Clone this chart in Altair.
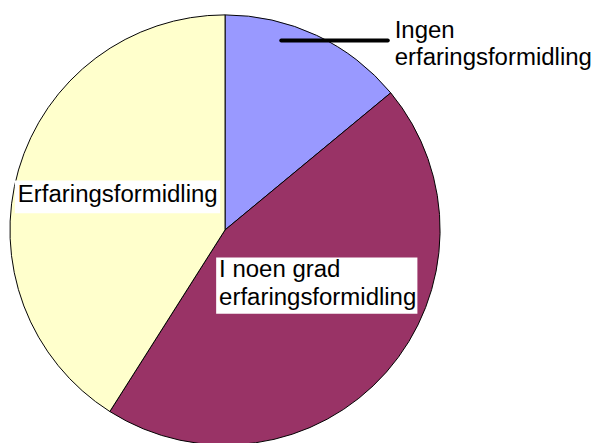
import altair as alt
import pandas as pd

categories = ["Ingen erfaringsformidling", "I noen grad erfaringsformidling", "Erfaringsformidling"]
values = [14, 45, 41]
colors = ["#9999FF", "#993366", "#FFFFCC"]

df = pd.DataFrame({"kategori": categories, "andel": values, "rekkefolge": [0, 1, 2]})

FONT = "Liberation Sans"
FS = 24.3

pie = alt.Chart(df).mark_arc(outerRadius=218, stroke="black", strokeWidth=1).encode(
    theta=alt.Theta("andel:Q", stack=True),
    order=alt.Order("rekkefolge:Q"),
    color=alt.Color("kategori:N", scale=alt.Scale(domain=categories, range=colors), legend=None),
    x=alt.value(220),
    y=alt.value(222),
)

one = pd.DataFrame({"a": [0]})

box1 = alt.Chart(one).mark_rect(color="white").encode(
    x=alt.value(7), x2=alt.value(215), y=alt.value(172), y2=alt.value(205)
)
box2 = alt.Chart(one).mark_rect(color="white").encode(
    x=alt.value(211), x2=alt.value(415), y=alt.value(250), y2=alt.value(307)
)

def txt(s, x, y):
    return alt.Chart(one).mark_text(
        text=s, font=FONT, fontSize=FS, align="left", baseline="alphabetic", color="black"
    ).encode(x=alt.value(x), y=alt.value(y))

t1 = txt("Erfaringsformidling", 10, 194)
t2a = txt("I noen grad", 214, 270)
t2b = txt("erfaringsformidling", 214, 298)
t3a = txt("Ingen", 392, 27)
t3b = txt("erfaringsformidling", 392, 55)

leader = alt.Chart(one).mark_rule(color="black", strokeWidth=4, strokeCap="round").encode(
    x=alt.value(277), x2=alt.value(385), y=alt.value(30)
)

chart = alt.layer(pie, box1, box2, t1, t2a, t2b, leader, t3a, t3b).properties(
    width=593, height=435,
    autosize=alt.AutoSizeParams(type="none"),
    padding=0,
).configure_view(stroke=None)

chart.save("out.html", embed_options={"renderer": "svg", "actions": False})
